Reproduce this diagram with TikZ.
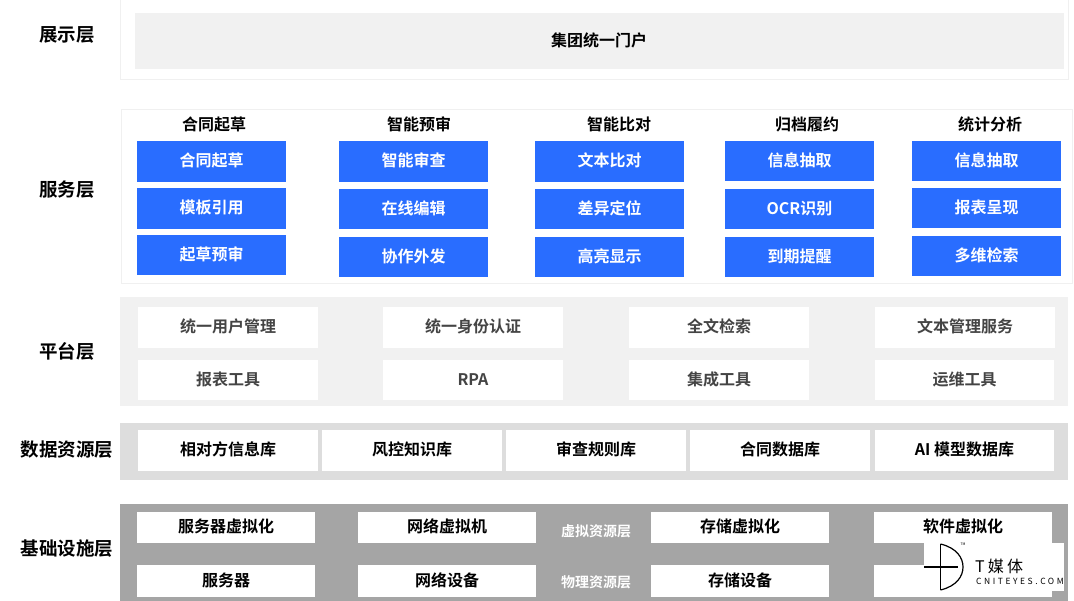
\documentclass[tikz,border=0pt]{standalone}
\usepackage{fontspec}
\setmainfont{Noto Sans CJK SC}[BoldFont={Noto Sans CJK SC Bold}]
\usepackage{xcolor}
\usetikzlibrary{
  positioning
}
\definecolor{ServiceBlue}{RGB}{41, 109, 255}
\definecolor{PaleGray}{RGB}{241, 241, 241}
\definecolor{FrameGray}{RGB}{240, 240, 240}
\definecolor{DataGray}{RGB}{221, 221, 221}
\definecolor{BaseGray}{RGB}{165, 165, 165}
\definecolor{DarkText}{RGB}{68, 68, 68}
\tikzset{
    base/.style={rectangle, inner sep=0pt, anchor=center, font=\fontsize{16}{18}\selectfont\bfseries},
    upone/.style={text height=13.4pt, text depth=2.6pt},
    layerlabel/.style={base, font=\fontsize{18.5}{22}\selectfont\bfseries},
    headlabel/.style={base, font=\fontsize{16}{18}\selectfont\bfseries},
    framebox/.style={base, draw=FrameGray, line width=1pt, fill=white},
    band/.style={base, fill=#1},
    bluebox/.style={base, upone, fill=ServiceBlue, text=white, minimum width=149pt},
    platbox/.style={base, upone, fill=white, text=DarkText, minimum width=180pt},
    databox/.style={base, upone, fill=white, minimum width=180pt, minimum height=41pt},
    basebox/.style={base, upone, fill=white, minimum width=178pt},
    sublabel/.style={base, text=white, font=\fontsize{14}{16}\selectfont\bfseries},
}
\begin{document}
\begin{tikzpicture}[x=1pt, y=-1pt]
            \useasboundingbox (0,0) rectangle (1074,601);

            % layer names
            \node[layerlabel] (lblshow) at (67,35) {展示层};
            \node[layerlabel] (lblservice) at (67,190) {服务层};
            \node[layerlabel] (lblplatform) at (67,351) {平台层};
            \node[layerlabel] (lbldata) at (67,450) {数据资源层};
            \node[layerlabel] (lblinfra) at (67,549) {基础设施层};

            % display layer
            \node[framebox, minimum width=948pt, minimum height=80pt] (showframe) at (594,39.5) {};
            \node[band=PaleGray, minimum width=929pt, minimum height=56pt] (portal) at (599.5,41) {};
            \node[base] (portaltext) at (599,40) {集团统一门户};

            % service layer
            \node[framebox, minimum width=951pt, minimum height=174pt] (serviceframe) at (596.5,197) {};
            \node[headlabel] (headA) at (214,124.5) {合同起草};
            \node[headlabel] (headB) at (419,124.5) {智能预审};
            \node[headlabel] (headC) at (619,124.5) {智能比对};
            \node[headlabel] (headD) at (807,124.5) {归档履约};
            \node[headlabel] (headE) at (990,124.5) {统计分析};

            \node[bluebox, minimum height=41pt] (a1) at (211.5,161.5) {合同起草};
            \node[bluebox, minimum height=41pt] (a2) at (211.5,208.5) {模板引用};
            \node[bluebox, minimum height=40pt] (a3) at (211.5,255) {起草预审};

            \node[bluebox, minimum height=41pt] (b1) at (413.5,161.5) {智能审查};
            \node[bluebox, minimum height=40pt] (b2) at (413.5,209) {在线编辑};
            \node[bluebox, minimum height=40pt] (b3) at (413.5,257) {协作外发};

            \node[bluebox, minimum height=41pt] (c1) at (609.5,161.5) {文本比对};
            \node[bluebox, minimum height=40pt] (c2) at (609.5,209) {差异定位};
            \node[bluebox, minimum height=40pt] (c3) at (609.5,257) {高亮显示};

            \node[bluebox, minimum height=40pt] (d1) at (799.5,161) {信息抽取};
            \node[bluebox, minimum height=40pt] (d2) at (799.5,209) {OCR识别};
            \node[bluebox, minimum height=40pt] (d3) at (799.5,257) {到期提醒};

            \node[bluebox, minimum height=40pt] (e1) at (986.5,161) {信息抽取};
            \node[bluebox, minimum height=40pt] (e2) at (986.5,208) {报表呈现};
            \node[bluebox, minimum height=40pt] (e3) at (986.5,256) {多维检索};

            % platform layer
            \node[band=PaleGray, minimum width=948pt, minimum height=109pt] (platband) at (594,351.5) {};
            \node[platbox, minimum height=41pt] (p1) at (228,327.5) {统一用户管理};
            \node[platbox, minimum height=41pt] (p2) at (473,327.5) {统一身份认证};
            \node[platbox, minimum height=41pt] (p3) at (719,327.5) {全文检索};
            \node[platbox, minimum height=41pt] (p4) at (965,327.5) {文本管理服务};
            \node[platbox, minimum height=40pt] (p5) at (228,380) {报表工具};
            \node[platbox, minimum height=40pt] (p6) at (473,380) {RPA};
            \node[platbox, minimum height=40pt] (p7) at (719,380) {集成工具};
            \node[platbox, minimum height=40pt, minimum width=179pt] (p8) at (964.5,380) {运维工具};

            % data layer
            \node[band=DataGray, minimum width=948pt, minimum height=57pt] (databand) at (594,451.5) {};
            \node[databox] (d1box) at (228,450.5) {相对方信息库};
            \node[databox] (d2box) at (412,450.5) {风控知识库};
            \node[databox] (d3box) at (596,450.5) {审查规则库};
            \node[databox] (d4box) at (780,450.5) {合同数据库};
            \node[databox, minimum width=179pt] (d5box) at (964.5,450.5) {AI 模型数据库};

            % infrastructure layer
            \node[band=BaseGray, minimum width=948pt, minimum height=97pt] (infraband) at (594,552.5) {};
            \node[basebox, minimum height=31pt] (v1) at (226,527.5) {服务器虚拟化};
            \node[basebox, minimum height=31pt] (v2) at (447,527.5) {网络虚拟机};
            \node[sublabel] (vlabel) at (596,531) {虚拟资源层};
            \node[basebox, minimum height=31pt] (v3) at (740,527.5) {存储虚拟化};
            \node[basebox, minimum height=31pt] (v4) at (963,527.5) {软件虚拟化};
            \node[basebox, minimum height=32pt] (h1) at (226,581) {服务器};
            \node[basebox, minimum height=32pt] (h2) at (447,581) {网络设备};
            \node[sublabel] (hlabel) at (596,582) {物理资源层};
            \node[basebox, minimum height=32pt] (h3) at (740,581) {存储设备};
            \node[basebox, minimum height=32pt] (h4) at (963,581) {};

            % watermark
            \node[base, fill=white, minimum width=140pt, minimum height=48pt] (mark) at (994,567) {};
            \coordinate (marktop) at (940.5,544);
            \coordinate (markbot) at (940.5,590);
            \coordinate (markleft) at (924,567);
            \coordinate (markright) at (958,567);
            \draw[line width=1.4pt] (marktop) -- (markbot);
            \draw[line width=1.4pt] (markleft) -- (markright);
            \draw[line width=1.2pt] (marktop) .. controls (957,548) and (963,558) .. (963,567) .. controls (963,576) and (957,586) .. (markbot);
            \node[base, font=\fontsize{3.5}{4}\selectfont] (marktm) at (963,544) {TM};
            \node[base, font=\fontsize{16}{18}\selectfont\addfontfeature{LetterSpace=20}, anchor=west] (marktitle) at (975,566) {T媒体};
            \node[base, font=\fontsize{8.5}{10}\selectfont\addfontfeature{LetterSpace=30}, anchor=west] (markurl) at (976,581) {CNITEYES.COM};
        \end{tikzpicture}
\end{document}
